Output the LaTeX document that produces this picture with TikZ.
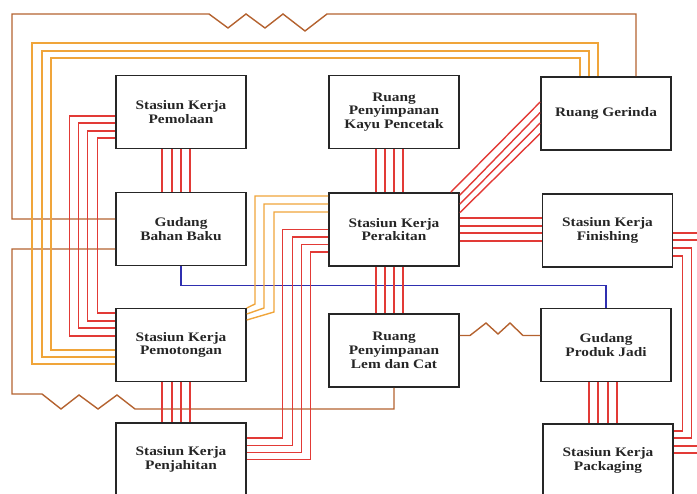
\documentclass[tikz,border=0pt]{standalone}
\usepackage{fontspec}
\setmainfont{Liberation Serif}[FakeStretch=1.18]
\usepackage{tikz}
\usetikzlibrary{
  calc  % anchor offsets: ($(a.west)+(0,4)$)
}

\definecolor{jalurmerah}{HTML}{E23A36}
\definecolor{jaluroranye}{HTML}{F0A53A}
\definecolor{jalurcoklat}{HTML}{B4622F}
\definecolor{jalurbiru}{HTML}{2F2FB0}

\begin{document}
\begin{tikzpicture}[x=1pt,y=-1pt,
    ruang/.style={draw=black!85, line width=1.6pt, fill=white, inner sep=0pt,
      minimum width=130pt, minimum height=73pt, align=center,
      text=black!85, font=\fontsize{13}{13.8}\selectfont\bfseries},
    merah/.style={draw=jalurmerah, line width=1.4pt},
    oranye/.style={draw=jaluroranye, line width=1.4pt},
    coklat/.style={draw=jalurcoklat, line width=1.4pt},
    biru/.style={draw=jalurbiru, line width=1.4pt}]
            \useasboundingbox (0,0) rectangle (697,494);
            \clip (0,0) rectangle (697,494);

            \node[ruang] (pemolaan) at (181,112) {Stasiun Kerja\\Pemolaan};
            \node[ruang] (kayu) at (394,112) {Ruang\\Penyimpanan\\Kayu Pencetak};
            \node[ruang] (gerinda) at (606,113.5) {Ruang Gerinda};
            \node[ruang] (bahanbaku) at (181,229) {Gudang\\Bahan Baku};
            \node[ruang] (perakitan) at (394,229.5) {Stasiun Kerja\\Perakitan};
            \node[ruang] (finishing) at (607.5,230.5) {Stasiun Kerja\\Finishing};
            \node[ruang] (pemotongan) at (181,345) {Stasiun Kerja\\Pemotongan};
            \node[ruang] (lemcat) at (394,350.5) {Ruang\\Penyimpanan\\Lem dan Cat};
            \node[ruang] (produkjadi) at (606,345) {Gudang\\Produk Jadi};
            \node[ruang] (penjahitan) at (181,459.5) {Stasiun Kerja\\Penjahitan};
            \node[ruang] (packaging) at (608,460.5) {Stasiun Kerja\\Packaging};

            % coklat
            \draw[coklat] ($(bahanbaku.west)+(0,-10)$) -| (12,14) -- (209,14) -- (228,28)
              -- (246,14) -- (265,28) -- (283,14) -- (305,31) -- (327,14)
              -| ($(gerinda.north)+(30,0)$);
            \draw[coklat] ($(bahanbaku.west)+(0,20)$) -| (12,394) -- (42,394) -- (61,409)
              -- (79,395) -- (98,409) -- (117,395) -- (135,409) -| (lemcat.south);
            \draw[coklat] ($(lemcat.east)+(0,-15)$) -- (470,335.5) -- (486,323) -- (498,334)
              -- (510,323) -- (523,335.5) -- ($(produkjadi.west)+(0,-9.5)$);

            % biru
            \draw[biru] (bahanbaku.south) -- ++(0,19) -| (produkjadi.north);

            % oranye
            \foreach \a/\t/\l/\b in {-26/58/51/5, -17/51/42/12, -8/43/32/19}
              \draw[oranye] ($(gerinda.north)+(\a,0)$) |- (\l,\t) |- ($(pemotongan.west)+(0,\b)$);
            \foreach \a/\x/\t/\b in {-33.5/255/304/-37, -25.5/264/308/-31, -17.5/274/312/-25}
              \draw[oranye] ($(perakitan.west)+(0,\a)$) -| (\x,\t) -- ($(pemotongan.east)+(0,\b)$);

            % merah
            \foreach \d in {-19,-9,0,9} {
              \draw[merah] ([xshift=\d pt]pemolaan.south) -- ([xshift=\d pt]bahanbaku.north);
              \draw[merah] ([xshift=\d pt]pemotongan.south) -- ([xshift=\d pt]penjahitan.north);
            }
            \foreach \d in {-18,-9,0,9} {
              \draw[merah] ([xshift=\d pt]kayu.south) -- ([xshift=\d pt]perakitan.north);
              \draw[merah] ([xshift=\d pt]perakitan.south) -- ([xshift=\d pt]lemcat.north);
            }
            \foreach \d/\e in {-17/-19, -8/-10, 2/0, 11/9}
              \draw[merah] ([xshift=\d pt]produkjadi.south) -- ([xshift=\e pt]packaging.north);
            \foreach \a/\d/\b in {4/46/-9, 11/37/-17, 19/28/-24, 26/18/-32}
              \draw[merah] ($(pemolaan.west)+(0,\a)$) -- ++(-\d,0) |- ($(pemotongan.west)+(0,\b)$);
            \foreach \a/\d/\b in {0/46/-21.5, 7.5/36/-14, 15/27/-7, 22.5/18/0}
              \draw[merah] ($(perakitan.west)+(0,\a)$) -- ++(-\d,0) |- ($(penjahitan.east)+(0,\b)$);
            \foreach \a in {-11.5,-3.5,3.5,11.5}
              \draw[merah] ($(perakitan.east)+(0,\a)$) -- ($(finishing.west)+(0,\a-1)$);
            \foreach \a/\d/\b in {2.5/36/-7.5, 9.5/27/-14.5, 17.5/18/-22.5, 25.5/9/-29.5}
              \draw[merah] ($(finishing.east)+(0,\a)$) -- ++(\d,0) |- ($(packaging.east)+(0,\b)$);
            \draw[merah] ($(perakitan.north east)+(-9,0)$) -- ($(gerinda.west)+(0,-11.5)$);
            \draw[merah] ($(perakitan.north east)+(0,3)$) -- ($(gerinda.west)+(0,-1)$);
            \draw[merah] ($(perakitan.north east)+(0,12)$) -- ($(gerinda.west)+(0,9.5)$);
            \draw[merah] ($(perakitan.north east)+(0,20.5)$) -- ($(gerinda.west)+(0,20)$);
        \end{tikzpicture}
\end{document}
